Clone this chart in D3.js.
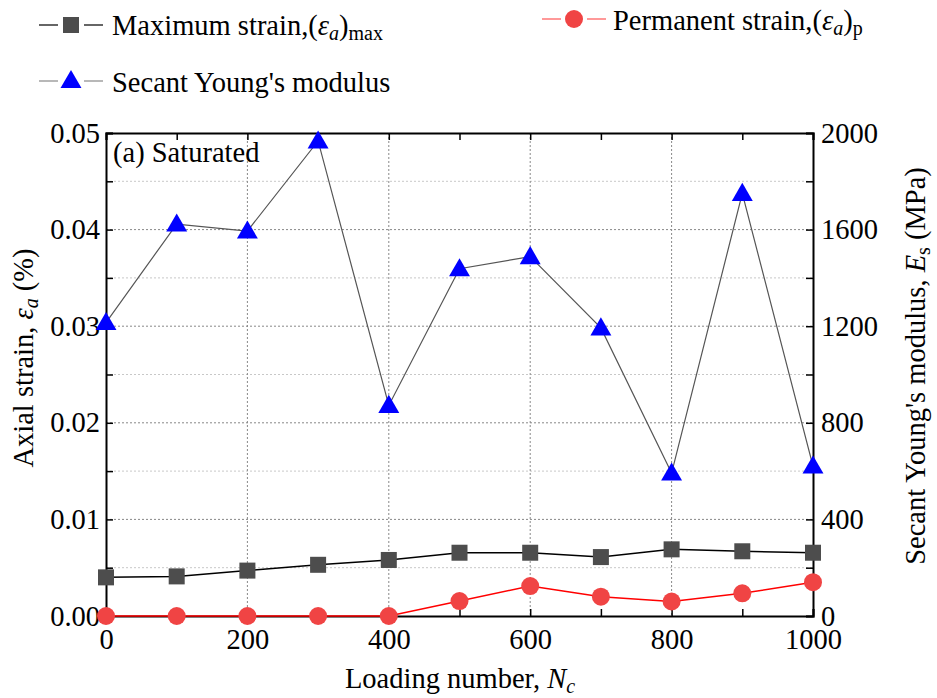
<!DOCTYPE html>
<html><head><meta charset="utf-8">
<script src="https://cdn.jsdelivr.net/npm/d3@7/dist/d3.min.js"></script>
<style>
body{margin:0;background:#fff;}
svg text{font-family:"Liberation Serif","Times New Roman",serif;fill:#000;}
</style></head>
<body><svg id="chart" width="937" height="698"></svg>
<script>
const loadingNumbers = [0,100,200,300,400,500,600,700,800,900,1000];
const maxStrain = [0.0040,0.0041,0.0047,0.0053,0.0058,0.00655,0.00655,0.0061,0.0069,0.0067,0.00655];
const permStrain = [0,0,0,0,0,0.00155,0.0031,0.0020,0.0015,0.00235,0.0035];
const secantModulus = [1215,1623,1594,1967,872,1438,1488,1193,592,1750,621];
const xTicks = [0,200,400,600,800,1000];
const leftTicks = [0,0.01,0.02,0.03,0.04,0.05];
const rightTicks = [0,400,800,1200,1600,2000];

const svg = d3.select("#chart");
const L=106,R=813,T=133,B=616;
const x = d3.scaleLinear().domain([0,1000]).range([L,R]);
const yL = d3.scaleLinear().domain([0,0.05]).range([B,T]);
const yR = d3.scaleLinear().domain([0,2000]).range([B,T]);
const FS = 28.5, SUB = 20;
const FF = "Liberation Serif";

// grid
const g = svg.append("g");
d3.range(0.005,0.05,0.01).forEach(v=>{
  g.append("line").attr("x1",L).attr("x2",R).attr("y1",yL(v)).attr("y2",yL(v))
   .attr("stroke","#c8c8c8").attr("stroke-width",1).attr("stroke-dasharray","2,2");
});
[0.01,0.02,0.03,0.04].forEach(v=>{
  g.append("line").attr("x1",L).attr("x2",R).attr("y1",yL(v)).attr("y2",yL(v))
   .attr("stroke","#888").attr("stroke-width",1).attr("stroke-dasharray","2,2");
});
[200,400,600,800].forEach(v=>{
  g.append("line").attr("y1",T).attr("y2",B).attr("x1",x(v)).attr("x2",x(v))
   .attr("stroke","#888").attr("stroke-width",1).attr("stroke-dasharray","2,2");
});

// axes
const axB = d3.axisBottom(x).tickValues(d3.range(0,1001,100)).tickSize(-7).tickFormat(d=>xTicks.includes(d)?d:"");
const axT = d3.axisTop(x).tickValues(d3.range(0,1001,100)).tickSize(-7).tickFormat("");
const axL = d3.axisLeft(yL).tickValues(d3.range(0,0.0501,0.005)).tickSize(-7).tickFormat(d=>
  leftTicks.some(t=>Math.abs(d-t)<1e-9)?d3.format(".2f")(d):"");
const axR = d3.axisRight(yR).tickValues(d3.range(0,2001,200)).tickSize(-7).tickFormat(d=>rightTicks.includes(d)?d:"");
function style(sel){
  sel.attr("font-family",FF).attr("font-size",FS);
  sel.select(".domain").attr("stroke","#000").attr("stroke-width",2);
  sel.selectAll(".tick line").attr("stroke","#000").attr("stroke-width",1.5);
  sel.selectAll(".tick text").style("font-size",FS+"px").style("font-family",FF);
}
svg.append("g").attr("transform",`translate(0,${B})`).call(axB).call(style)
  .call(s=>s.selectAll(".tick text").attr("dy",0).attr("y",33));
svg.append("g").attr("transform",`translate(0,${T})`).call(axT).call(style);
svg.append("g").attr("transform",`translate(${L},0)`).call(axL).call(style)
  .call(s=>s.selectAll(".tick text").attr("x",-6));
svg.append("g").attr("transform",`translate(${R},0)`).call(axR).call(style)
  .call(s=>s.selectAll(".tick text").attr("x",8));
svg.selectAll(".tick text").filter(function(){return this.textContent==="";}).remove();

// series
const pts = loadingNumbers.map((n,i)=>({n,m:maxStrain[i],p:permStrain[i],e:secantModulus[i]}));
svg.append("path").datum(pts).attr("fill","none").attr("stroke","#555").attr("stroke-width",1.2)
  .attr("d",d3.line().x(d=>x(d.n)).y(d=>yR(d.e)));
svg.append("path").datum(pts).attr("fill","none").attr("stroke","#000").attr("stroke-width",1.5)
  .attr("d",d3.line().x(d=>x(d.n)).y(d=>yL(d.m)));
svg.append("path").datum(pts).attr("fill","none").attr("stroke","#ff0000").attr("stroke-width",1.5)
  .attr("d",d3.line().x(d=>x(d.n)).y(d=>yL(d.p)));

const tri = d3.symbol().type(d3.symbolTriangle).size(190);
svg.selectAll(".sq").data(pts).enter().append("rect")
  .attr("x",d=>x(d.n)-8).attr("y",d=>yL(d.m)-8).attr("width",16).attr("height",16).attr("fill","#4d4d4d");
svg.selectAll(".ci").data(pts).enter().append("circle")
  .attr("cx",d=>x(d.n)).attr("cy",d=>yL(d.p)).attr("r",9).attr("fill","#f04444");
svg.selectAll(".tr").data(pts).enter().append("path").attr("d",tri)
  .attr("transform",d=>`translate(${x(d.n)},${yR(d.e)+1.5})`).attr("fill","#0000ff");

// annotation
svg.append("text").attr("x",113).attr("y",162).style("font-size",FS+"px").text("(a) Saturated");

// axis titles
const lt = svg.append("text").attr("transform","translate(33,358) rotate(-90)").attr("text-anchor","middle").style("font-size",FS+"px");
lt.append("tspan").text("Axial strain, ");
lt.append("tspan").style("font-style","italic").text("ε");
lt.append("tspan").style("font-style","italic").attr("baseline-shift","-25%").style("font-size",SUB+"px").text("a");
lt.append("tspan").text(" (%)");

const rt = svg.append("text").attr("transform","translate(925,366) rotate(-90)").attr("text-anchor","middle").style("font-size",FS+"px");
rt.append("tspan").text("Secant Young's modulus, ");
rt.append("tspan").style("font-style","italic").text("E");
rt.append("tspan").attr("baseline-shift","-25%").style("font-size",SUB+"px").text("s");
rt.append("tspan").text(" (MPa)");

const bt = svg.append("text").attr("x",460).attr("y",688).attr("text-anchor","middle").style("font-size",FS+"px");
bt.append("tspan").text("Loading number, ");
bt.append("tspan").style("font-style","italic").text("N");
bt.append("tspan").style("font-style","italic").attr("baseline-shift","-25%").style("font-size",SUB+"px").text("c");

// legend
function legendText(xp,yp,parts){
  const t=svg.append("text").attr("x",xp).attr("y",yp).style("font-size",FS+"px");
  parts.forEach(p=>{const s=t.append("tspan").text(p.t); if(p.i) s.style("font-style","italic"); if(p.sub){s.attr("baseline-shift","-25%").style("font-size",SUB+"px");}});
  return t;
}
// row 1 left
svg.append("line").attr("x1",39).attr("x2",58).attr("y1",25).attr("y2",25).attr("stroke","#000").attr("stroke-width",1.2);
svg.append("line").attr("x1",84).attr("x2",103).attr("y1",25).attr("y2",25).attr("stroke","#000").attr("stroke-width",1.2);
svg.append("rect").attr("x",63).attr("y",17).attr("width",16).attr("height",16).attr("fill","#4d4d4d");
legendText(112,35,[{t:"Maximum strain,("},{t:"ε",i:1},{t:"a",i:1,sub:1},{t:")"},{t:"max",sub:1}]);
// row 1 right
svg.append("line").attr("x1",542).attr("x2",561).attr("y1",19).attr("y2",19).attr("stroke","#f77").attr("stroke-width",1.5);
svg.append("line").attr("x1",587).attr("x2",606).attr("y1",19).attr("y2",19).attr("stroke","#f77").attr("stroke-width",1.5);
svg.append("circle").attr("cx",574).attr("cy",19).attr("r",9).attr("fill","#f04444");
legendText(613,30,[{t:"Permanent strain,("},{t:"ε",i:1},{t:"a",i:1,sub:1},{t:")"},{t:"p",sub:1}]);
// row 2
svg.append("line").attr("x1",39).attr("x2",58).attr("y1",81).attr("y2",81).attr("stroke","#888").attr("stroke-width",1.2);
svg.append("line").attr("x1",84).attr("x2",103).attr("y1",81).attr("y2",81).attr("stroke","#888").attr("stroke-width",1.2);
svg.append("path").attr("d",tri).attr("transform","translate(71,82)").attr("fill","#0000ff");
legendText(112,92,[{t:"Secant Young's modulus"}]);
</script></body></html>
